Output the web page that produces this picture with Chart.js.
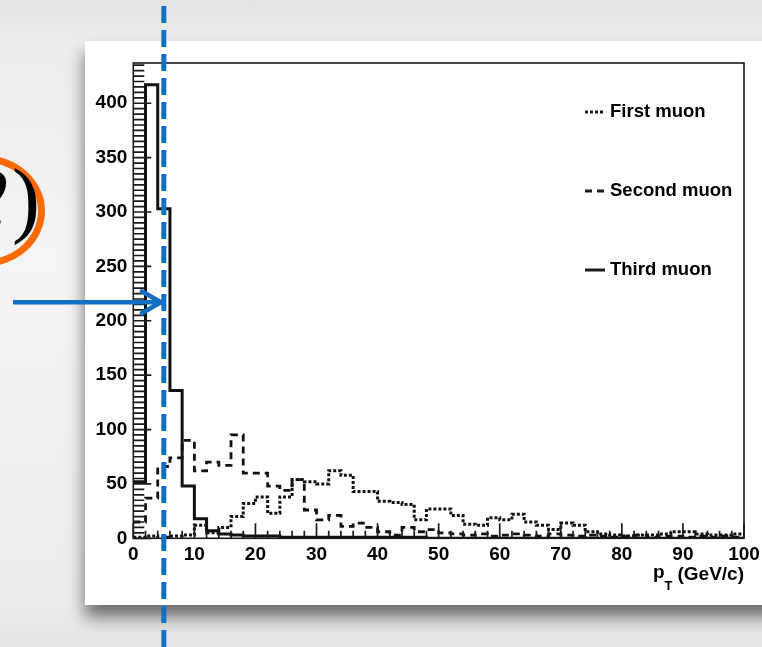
<!DOCTYPE html>
<html>
<head>
<meta charset="utf-8">
<script src="https://cdn.jsdelivr.net/npm/chart.js@4.4.1/dist/chart.umd.min.js"></script>
<style>
  html, body { margin: 0; padding: 0; }
  body {
    width: 762px; height: 647px; overflow: hidden; position: relative;
    background: linear-gradient(#e3e3e3 0px, #ececec 40px, #f4f4f4 260px, #ececec 600px, #e4e4e4 647px);
  }
  #panel {
    position: absolute; left: 85px; top: 41px; width: 720px; height: 564px;
    background: #fff; box-shadow: 0 12px 16px rgba(0, 0, 0, 0.55);
  }
  #ring {
    position: absolute; left: -80px; top: 155px; width: 111px; height: 98px;
    border: 7px solid #ff6a00; border-radius: 50%;
  }
  #tag {
    position: absolute; right: 722px; top: 150px; line-height: 1;
    font: 84px 'Liberation Serif', serif; color: #000; white-space: nowrap;
  }
  #tag i { margin-right: 4px; }
  #histo { position: absolute; left: 0; top: 0; }
</style>
</head>
<body>
<div id="panel"></div>
<div id="ring"></div>
<div id="tag"><i>2</i>)</div>
<canvas id="histo" width="762" height="647"></canvas>
<script>
// muon pT spectra, 2 GeV/c bins from 0 to 100
const binWidth = 2;
const seriesNames = ['First muon', 'Second muon', 'Third muon'];
const firstMuon = [1, 2, 1, 2, 3, 12, 5, 10, 20, 32,
                   38, 23, 38, 54, 52, 50, 62, 58, 43, 43,
                   34, 33, 31, 17, 27, 27, 21, 13, 12, 19,
                   17, 22, 15, 12, 8, 14, 12, 6, 4, 3,
                   2, 3, 3, 4, 6, 6, 4, 3, 3, 4];
const secondMuon = [15, 37, 66, 74, 90, 62, 70, 67, 95, 60,
                    60, 48, 44, 54, 26, 17, 21, 11, 14, 10,
                    6, 3, 10, 6, 8, 5, 4, 3, 4, 2,
                    3, 4, 3, 2, 4, 3, 2, 3, 2, 1,
                    2, 3, 1, 2, 2, 1, 2, 1, 2, 1];
const thirdMuon = [52, 417, 303, 136, 48, 18, 7, 4, 3, 2,
                   2, 2, 1, 1, 1, 1, 1, 1, 1, 1,
                   1, 1, 1, 1, 0, 0, 0, 0, 0, 0,
                   0, 0, 0, 0, 0, 0, 0, 0, 0, 0,
                   0, 0, 0, 0, 0, 0, 0, 0, 0, 0];
const xTicks = [0, 10, 20, 30, 40, 50, 60, 70, 80, 90, 100];
const yTicks = [0, 50, 100, 150, 200, 250, 300, 350, 400];
const yMax = 437;
// cut marked on the plot
const cutPt = 5;
const arrowLevel = 217;

const labelFont = { family: "'Liberation Sans', Arial, sans-serif", size: 19, weight: 'bold' };

// outline of a histogram: one point per lower bin edge plus the closing edge
function histPoints(counts) {
  const pts = counts.map((c, i) => ({ x: i * binWidth, y: c }));
  pts.push({ x: counts.length * binWidth, y: counts[counts.length - 1] });
  return pts;
}

const lineStyles = [
  { dash: [3, 2], width: 3 },
  { dash: [7, 5], width: 2.8 },
  { dash: [], width: 3 }
];

const datasets = [firstMuon, secondMuon, thirdMuon].map((counts, i) => ({
  label: seriesNames[i],
  data: histPoints(counts),
  borderColor: '#111',
  borderWidth: lineStyles[i].width,
  borderDash: lineStyles[i].dash,
  borderCapStyle: 'butt',
  stepped: 'before',
  pointRadius: 0,
  fill: false
}));

// frame, inward ROOT-style ticks, legend and axis title
const rootFrame = {
  id: 'rootFrame',
  afterDraw(chart) {
    const { ctx, chartArea: a, scales: { x, y } } = chart;
    ctx.save();
    ctx.strokeStyle = '#1a1a1a';
    ctx.lineWidth = 1.6;
    ctx.setLineDash([]);
    ctx.strokeRect(a.left, a.top, a.right - a.left, a.bottom - a.top);

    ctx.lineWidth = 1.7;
    ctx.beginPath();
    for (let v = 0; v <= 100; v += binWidth) {
      const px = x.getPixelForValue(v);
      const len = v % 10 === 0 ? 15 : 7.5;
      ctx.moveTo(px, a.bottom);
      ctx.lineTo(px, a.bottom - len);
    }
    for (let v = 0; v <= yMax; v += 5) {
      const py = y.getPixelForValue(v);
      const len = v % 50 === 0 ? 18 : 11;
      ctx.moveTo(a.left, py);
      ctx.lineTo(a.left + len, py);
    }
    ctx.stroke();

    // legend
    const legendRows = [112, 191, 270];
    ctx.font = "bold 18.5px 'Liberation Sans', Arial, sans-serif";
    ctx.fillStyle = '#000';
    ctx.textBaseline = 'middle';
    ctx.textAlign = 'left';
    chart.data.datasets.forEach((ds, i) => {
      const ly = legendRows[i];
      ctx.beginPath();
      ctx.lineWidth = ds.borderWidth;
      ctx.setLineDash(ds.borderDash);
      ctx.moveTo(585, ly);
      ctx.lineTo(605, ly);
      ctx.stroke();
      ctx.setLineDash([]);
      ctx.fillText(ds.label, 610, ly);
    });

    // p_T (GeV/c)
    ctx.textAlign = 'right';
    ctx.font = "bold 19px 'Liberation Sans', Arial, sans-serif";
    const unitW = ctx.measureText('(GeV/c)').width;
    ctx.fillText('(GeV/c)', a.right, 575);
    ctx.font = "bold 13px 'Liberation Sans', Arial, sans-serif";
    ctx.fillText('T', a.right - unitW - 5, 586);
    const tW = ctx.measureText('T').width;
    ctx.font = "bold 19px 'Liberation Sans', Arial, sans-serif";
    ctx.fillText('p', a.right - unitW - 5 - tW, 573);
    ctx.restore();
  }
};

// blue dashed cut line with the arrow pointing at it
const cutMarker = {
  id: 'cutMarker',
  afterDraw(chart) {
    const { ctx, scales: { x, y } } = chart;
    const cx = x.getPixelForValue(cutPt);
    const ay = y.getPixelForValue(arrowLevel);
    ctx.save();
    ctx.strokeStyle = '#1170c4';
    ctx.lineWidth = 5;
    ctx.setLineDash([17, 7]);
    ctx.lineDashOffset = -6;
    ctx.beginPath();
    ctx.moveTo(cx, 0);
    ctx.lineTo(cx, chart.height);
    ctx.stroke();

    ctx.setLineDash([]);
    ctx.lineWidth = 4.5;
    ctx.beginPath();
    ctx.moveTo(13, ay);
    ctx.lineTo(cx - 3, ay);
    ctx.stroke();
    ctx.lineCap = 'round';
    ctx.lineJoin = 'round';
    ctx.beginPath();
    ctx.moveTo(cx - 22, ay - 11);
    ctx.lineTo(cx - 3, ay);
    ctx.lineTo(cx - 22, ay + 11);
    ctx.stroke();
    ctx.restore();
  }
};

new Chart(document.getElementById('histo').getContext('2d'), {
  type: 'line',
  data: { datasets },
  options: {
    responsive: false,
    animation: false,
    layout: { padding: { left: 93.3, top: 63, right: 18, bottom: 78.7 } },
    plugins: { legend: { display: false }, tooltip: { enabled: false } },
    scales: {
      x: {
        type: 'linear',
        min: 0,
        max: 100,
        afterFit: (scale) => {
          scale.height = 30;
          scale.paddingLeft = 0;
          scale.paddingRight = 0;
        },
        afterBuildTicks: (scale) => { scale.ticks = xTicks.map(v => ({ value: v })); },
        grid: { display: false, drawTicks: false },
        border: { display: false },
        ticks: { color: '#000', font: labelFont, padding: 5, maxRotation: 0, autoSkip: false }
      },
      y: {
        type: 'linear',
        min: 0,
        max: yMax,
        afterFit: (scale) => {
          scale.width = 40;
          scale.paddingTop = 0;
          scale.paddingBottom = 0;
        },
        afterBuildTicks: (scale) => { scale.ticks = yTicks.map(v => ({ value: v })); },
        grid: { display: false, drawTicks: false },
        border: { display: false },
        ticks: { color: '#000', font: labelFont, padding: 6, autoSkip: false }
      }
    }
  },
  plugins: [rootFrame, cutMarker]
});
</script>
</body>
</html>
